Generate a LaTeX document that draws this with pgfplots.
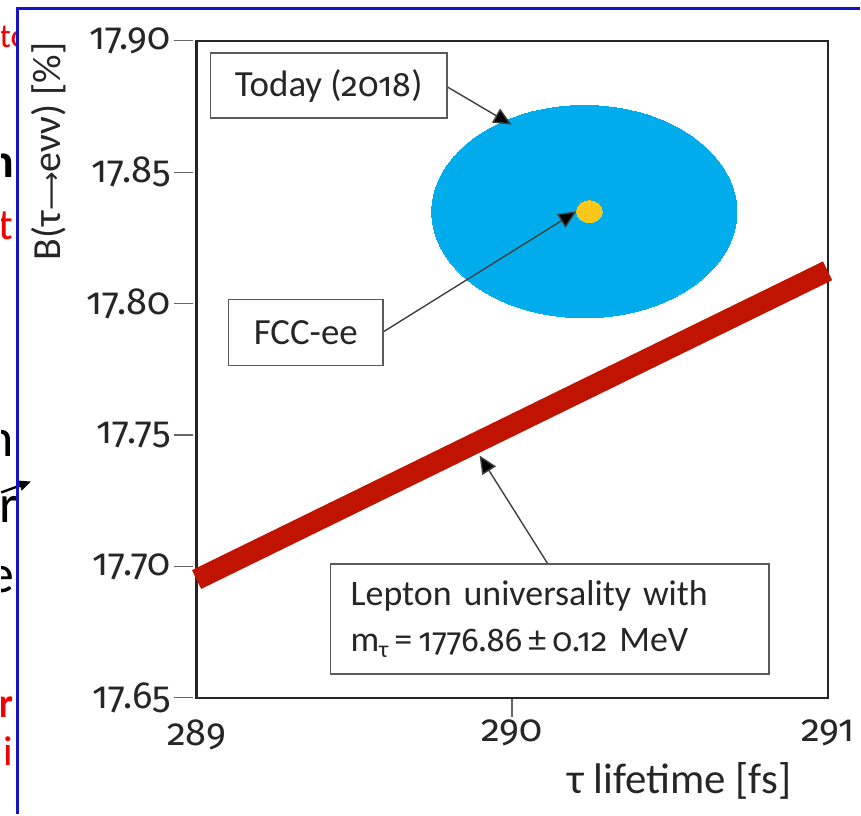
\documentclass[border=0pt]{standalone}
\usepackage{pgfplots}
\pgfplotsset{compat=1.18}
\usepackage{fontspec}
\setmainfont{Carlito}
\newfontfamily\osf{Fira Sans}[Numbers=OldStyle]
\newfontfamily\symfont{DejaVu Sans}
\usetikzlibrary{arrows.meta}
\definecolor{band}{RGB}{192,20,0}
\definecolor{today}{RGB}{0,172,236}
\definecolor{fcc}{RGB}{250,200,25}
\definecolor{frameblue}{RGB}{20,20,200}
\definecolor{boxgray}{RGB}{90,90,90}
\definecolor{fragred}{RGB}{240,0,0}

\begin{document}
\begin{tikzpicture}
\begin{axis}[
  scale only axis, width=316.5pt, height=329.5pt,
  xmin=289, xmax=291, ymin=17.65, ymax=17.90,
  clip=false,
  axis line style={line width=1.1pt, black!85},
  tick pos=left,
  xtick={290}, xticklabels={290},
  extra x ticks={289,291}, extra x tick labels={289,291},
  extra x tick style={major tick style={draw=none}},
  ytick={17.65,17.70,17.75,17.80,17.85,17.90},
  yticklabels={17.65,17.70,17.75,17.80,17.85,17.90},
  tick align=outside, major tick length=9.5pt,
  tick style={black!60, line width=0.6pt},
  every y tick/.append style={xshift=-2pt},
  yticklabel style={xshift=0pt},
  xticklabel style={yshift=2pt},
  /pgf/number format/assume math mode=true,
  ticklabel style={font=\osf\fontsize{19}{22}\selectfont, text=black!85},
  xlabel={τ lifetime [fs]},
  xlabel style={font=\fontsize{21.5}{25}\selectfont, text=black!85, at={(axis description cs:0.765,0)}, anchor=north, yshift=-29pt},
  ylabel={B(τ{\symfont\fontsize{13.5}{15}\selectfont⟶}eνν) [\%]},
  ylabel style={font=\fontsize{20}{23}\selectfont, text=black!85, at={(axis description cs:0,0.832)}, anchor=center, yshift=74pt},
]
\coordinate (O) at (rel axis cs:0,0);
% Lepton universality band
\addplot[band, line width=10.5pt] coordinates {(289,17.695) (291,17.8125)};
% Today (2018) measurement ellipse
\addplot[today, only marks, mark=*, mark size=53.25pt, mark options={xscale=1.437, draw=today, fill=today, line width=0pt}] coordinates {(290.229,17.835)};
% FCC-ee projection
\addplot[fcc, only marks, mark=*, mark size=5.5pt, mark options={xscale=1.18, draw=fcc, fill=fcc, line width=0pt}] coordinates {(290.245,17.835)};

\coordinate (T) at (axis cs:289.419,17.883);
\coordinate (F) at (axis cs:289.346,17.789);
\coordinate (L) at (axis cs:290.12,17.680);
\coordinate (a1) at (axis cs:289.793,17.8826);
\coordinate (b1) at (axis cs:289.998,17.8681);
\coordinate (a2) at (axis cs:289.591,17.7892);
\coordinate (b2) at (axis cs:290.204,17.8351);
\coordinate (a3) at (axis cs:290.112,17.7012);
\coordinate (b3) at (axis cs:289.897,17.7422);
\end{axis}
\tikzset{lbl/.style={draw=boxgray, line width=0.8pt, fill=white, font=\fontsize{18.5}{22}\selectfont, text=black!85, align=center},
         arr/.style={draw=black!75, line width=0.7pt, -{Triangle[length=9pt,width=8pt,fill=black]}}}
\draw[arr] (a1) -- (b1);
\draw[arr] (a2) -- (b2);
\draw[arr] (a3) -- (b3);
\node[lbl, minimum width=118.5pt, minimum height=32.5pt] at (T) {Today ({\osf\fontsize{17}{20}\selectfont 2018})};
\node[lbl, minimum width=77.5pt, minimum height=33pt] at (F) {FCC-ee};
\node[lbl, minimum width=217.5pt, minimum height=55pt, align=left, text width=200pt, inner xsep=10pt, font=\fontsize{18}{23}\selectfont] at (L) {Lepton universality with\\ m\raisebox{-0.35ex}{\fontsize{12}{14}\selectfont τ}\,=\,{\osf\fontsize{16.5}{20}\selectfont 1776.86}\,±\,{\osf\fontsize{16.5}{20}\selectfont 0.12} MeV};
\begin{scope}[shift={(O)}]
  \path (-98pt,-58.5pt) rectangle (332.5pt,350pt);
  \begin{scope}
    \clip (-98pt,-58.5pt) rectangle (-90.8pt,350pt);
    \node[anchor=base west, inner sep=0pt, text=fragred, font=\fontsize{17}{20}\selectfont] at (-99pt,326pt) {to};
    \node[anchor=base east, inner sep=0pt, text=black, font=\fontsize{24}{28}\selectfont\bfseries] at (-91.5pt,261pt) {n};
    \node[anchor=base east, inner sep=0pt, text=fragred, font=\fontsize{22}{26}\selectfont] at (-91.8pt,230pt) {t};
    \node[anchor=base east, inner sep=0pt, text=black, font=\fontsize{27}{32}\selectfont] at (-91.5pt,121pt) {n};
    \node[anchor=base east, inner sep=0pt, text=black, font=\fontsize{27}{32}\selectfont] at (-89pt,88pt) {or};
    \node[anchor=base east, inner sep=0pt, text=black, font=\fontsize{27}{32}\selectfont] at (-91pt,53pt) {e};
    \node[anchor=base east, inner sep=0pt, text=fragred, font=\fontsize{21}{25}\selectfont\bfseries] at (-91.5pt,-10pt) {r};
    \node[anchor=base east, inner sep=0pt, text=fragred, font=\fontsize{21}{25}\selectfont] at (-92pt,-34pt) {i};
  \end{scope}
  \draw[black, line width=1.2pt, -{Triangle[length=6pt,width=5pt]}] (-98pt,103pt) -- (-83pt,108.5pt);
  \draw[frameblue, line width=1.5pt] (-90pt,-58.5pt) -- (-90pt,345.5pt) -- (332.5pt,345.5pt);
\end{scope}
\end{tikzpicture}
\end{document}
